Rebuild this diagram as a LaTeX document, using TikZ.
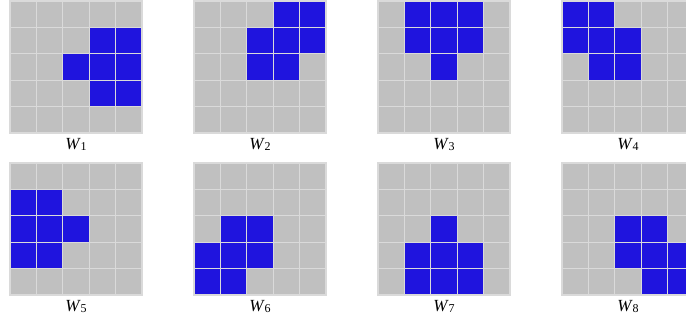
\documentclass[tikz,border=0pt]{standalone}
\usepackage{fontspec}
\setmainfont{Liberation Serif}
\definecolor{cellgray}{HTML}{C0C0C0}
\definecolor{linegray}{HTML}{DADADA}
\definecolor{cellblue}{HTML}{1F14DE}
\tikzset{
  cell/.style={fill=cellgray, draw=linegray, line width=1.2pt},
  oncell/.style={fill=cellblue, draw=linegray, line width=1.2pt},
  lab/.style={font=\fontsize{17}{20}\selectfont, anchor=base, inner sep=0pt}
}
\newcommand\mygrid[4]{%
  \foreach \r in {0,...,4} {\foreach \c in {0,...,4} {%
    \draw[cell] ({#1+\c*26.4},{#2+\r*26.4}) rectangle +(26.4,26.4);}}
  \foreach \r/\c in {#3} {%
    \draw[oncell] ({#1+\c*26.4},{#2+\r*26.4}) rectangle +(26.4,26.4);}
  \node[lab] (w#4) at ({#1+66},{#2+149}) {\textit{W}\raisebox{-1pt}{\fontsize{12}{12}\selectfont #4}};
}
\begin{document}
\begin{tikzpicture}[x=1pt,y=-1pt]
\useasboundingbox (0,0) rectangle (686,320);
\clip (0,0) rectangle (686,320);
\mygrid{10}{1}{1/3,1/4,2/2,2/3,2/4,3/3,3/4}{1}
\mygrid{194}{1}{0/3,0/4,1/2,1/3,1/4,2/2,2/3}{2}
\mygrid{378}{1}{0/1,0/2,0/3,1/1,1/2,1/3,2/2}{3}
\mygrid{562}{1}{0/0,0/1,1/0,1/1,1/2,2/1,2/2}{4}
\mygrid{10}{163}{1/0,1/1,2/0,2/1,2/2,3/0,3/1}{5}
\mygrid{194}{163}{2/1,2/2,3/0,3/1,3/2,4/0,4/1}{6}
\mygrid{378}{163}{2/2,3/1,3/2,3/3,4/1,4/2,4/3}{7}
\mygrid{562}{163}{2/2,2/3,3/2,3/3,3/4,4/3,4/4}{8}
\end{tikzpicture}
\end{document}
